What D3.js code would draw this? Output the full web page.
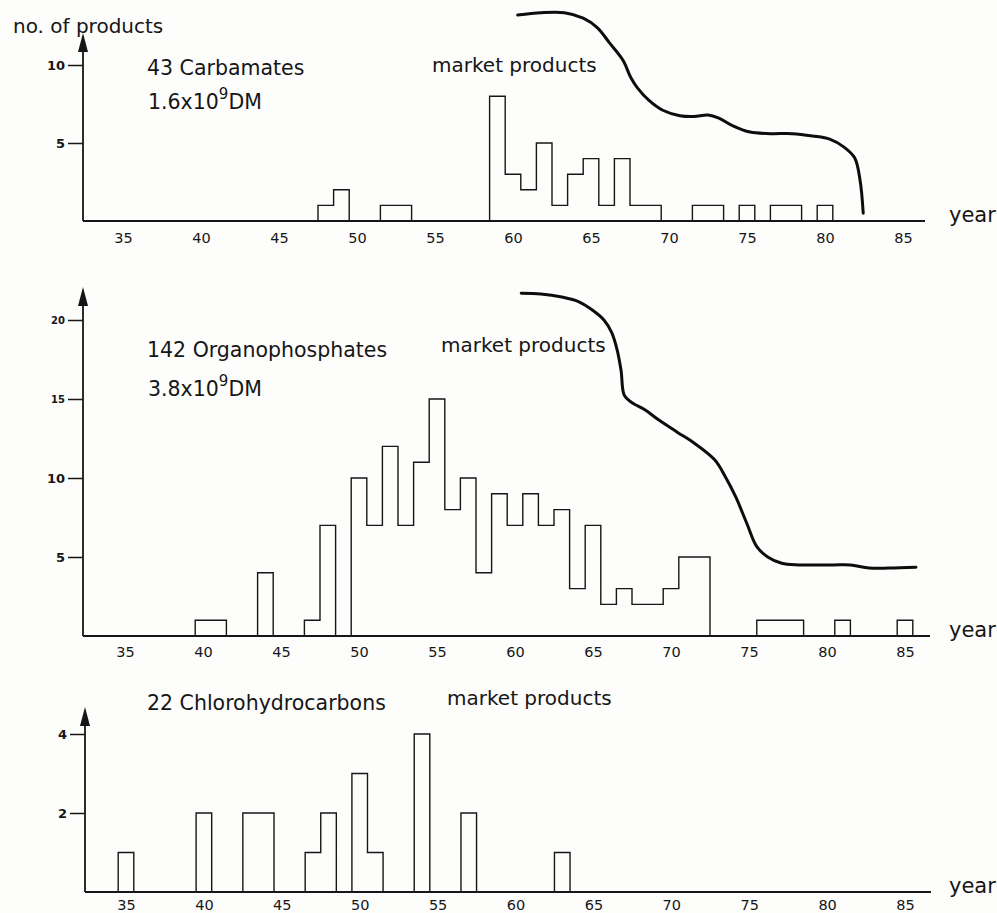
<!DOCTYPE html>
<html>
<head>
<meta charset="utf-8">
<script src="https://cdn.jsdelivr.net/npm/d3@7"></script>
<style>
body { margin: 0; background: #fdfdfc; }
svg text { font-family: "DejaVu Sans", "Liberation Sans", sans-serif; fill: #161616; }
</style>
</head>
<body>
<svg id="chart" width="997" height="913"></svg>
<script>
// Tick labels on the year axis
var yearTicks = [35, 40, 45, 50, 55, 60, 65, 70, 75, 80, 85];

// Carbamates: new products per year
var carbamateYears  = [48, 49, 52, 53, 59, 60, 61, 62, 63, 64, 65, 66, 67, 68, 69, 72, 73, 75, 77, 78, 80];
var carbamateCounts = [1, 2, 1, 1, 8, 3, 2, 5, 1, 3, 4, 1, 4, 1, 1, 1, 1, 1, 1, 1, 1];
// market products curve, [year, level on the count scale]
var carbamateMarket = [[60.3, 13.2], [61.8, 13.35], [63.3, 13.35], [64.5, 13.0], [65.4, 12.4], [66.2, 11.4],
  [67.05, 10.3], [67.55, 9.2], [68.0, 8.5], [68.7, 7.75], [69.6, 7.1], [70.7, 6.75], [71.6, 6.7], [72.5, 6.8],
  [73.2, 6.6], [74.1, 6.1], [75.2, 5.7], [76.5, 5.6], [77.9, 5.6], [79.2, 5.45], [80.3, 5.25], [81.2, 4.75],
  [81.9, 4.05], [82.25, 2.6], [82.45, 0.5]];

// Organophosphates
var phosphateYears  = [40, 41, 44, 47, 48, 50, 51, 52, 53, 54, 55, 56, 57, 58, 59, 60, 61, 62, 63, 64, 65,
  66, 67, 68, 69, 70, 71, 72, 76, 77, 78, 81, 85];
var phosphateCounts = [1, 1, 4, 1, 7, 10, 7, 12, 7, 11, 15, 8, 10, 4, 9, 7, 9, 7, 8, 3, 7,
  2, 3, 2, 2, 3, 5, 5, 1, 1, 1, 1, 1];
var phosphateMarket = [[60.4, 21.7], [61.65, 21.65], [63.0, 21.45], [64.1, 21.15], [65.0, 20.6], [65.7, 20.0],
  [66.2, 19.2], [66.55, 18.1], [66.8, 16.8], [67.0, 15.25], [67.45, 14.8], [68.35, 14.3], [69.25, 13.65],
  [70.4, 12.9], [71.5, 12.2], [72.8, 11.15], [73.5, 10.05], [74.15, 8.8], [74.85, 7.15], [75.5, 5.65],
  [76.2, 5.0], [77.1, 4.6], [78.2, 4.5], [80.4, 4.5], [81.5, 4.5], [82.7, 4.3], [84.0, 4.3], [85.7, 4.35]];

// Chlorohydrocarbons (no market curve)
var chloroYears  = [35, 40, 43, 44, 47, 48, 50, 51, 54, 57, 63];
var chloroCounts = [1, 2, 2, 2, 1, 2, 3, 1, 4, 2, 1];

var svg = d3.select("#chart");

// Panel layout
var panels = [
  { years: carbamateYears, counts: carbamateCounts, market: carbamateMarket,
    xRange: [123, 903], yDomain: [0, 10], base: 221, yTop: 65, yTicks: [5, 10],
    axisX: 83, arrowTip: 33, axisEnd: 925, labelPad: 12,
    title: "43 Carbamates", titleY: 75, value: ["1.6x10", "9", "DM"], valueY: 109,
    marketX: 432, marketY: 72 },
  { years: phosphateYears, counts: phosphateCounts, market: phosphateMarket,
    xRange: [125, 905], yDomain: [0, 20], base: 636, yTop: 320, yTicks: [5, 10, 15, 20],
    axisX: 83, arrowTip: 287, axisEnd: 930, labelPad: 11,
    title: "142 Organophosphates", titleY: 357, value: ["3.8x10", "9", "DM"], valueY: 396,
    marketX: 441, marketY: 352 },
  { years: chloroYears, counts: chloroCounts, market: null,
    xRange: [126, 905], yDomain: [0, 4], base: 892, yTop: 734, yTicks: [2, 4],
    axisX: 85, arrowTip: 707, axisEnd: 931, labelPad: 8,
    title: "22 Chlorohydrocarbons", titleY: 710, value: null,
    marketX: 447, marketY: 705 }
];

panels.forEach(drawPanel);

// y axis title
svg.append("text")
  .attr("x", 13).attr("y", 33)
  .attr("font-size", 20)
  .text("no. of products");

function drawPanel(p) {
  var x = d3.scaleLinear().domain([35, 85]).range(p.xRange);
  var y = d3.scaleLinear().domain(p.yDomain).range([p.base, p.yTop]);
  var g = svg.append("g");

  // y axis ticks
  var ya = g.append("g")
    .attr("transform", "translate(" + p.axisX + ",0)")
    .call(d3.axisLeft(y).tickValues(p.yTicks).tickSize(15).tickPadding(3).tickFormat(d3.format("d")));
  ya.select(".domain").remove();
  ya.selectAll(".tick line").attr("stroke", "#161616").attr("stroke-width", 1.5);
  ya.selectAll(".tick text")
    .attr("font-size", function(d) { return d >= 15 ? 10 : 13; })
    .attr("font-weight", "bold");

  // y axis line with arrow head
  g.append("line")
    .attr("x1", p.axisX).attr("x2", p.axisX)
    .attr("y1", p.base).attr("y2", p.arrowTip + 10)
    .attr("stroke", "#161616").attr("stroke-width", 1.8);
  g.append("path")
    .attr("d", "M" + (p.axisX - 5) + "," + (p.arrowTip + 19) + "L" + p.axisX + "," + p.arrowTip +
               "L" + (p.axisX + 5) + "," + (p.arrowTip + 19) + "Z")
    .attr("fill", "#161616");

  // x axis: labels only, baseline drawn separately
  var xa = g.append("g")
    .attr("transform", "translate(0," + p.base + ")")
    .call(d3.axisBottom(x).tickValues(yearTicks).tickSize(0).tickPadding(p.labelPad));
  xa.select(".domain").remove();
  xa.selectAll(".tick text").attr("font-size", 14.5);

  g.append("line")
    .attr("x1", p.axisX).attr("x2", p.axisEnd)
    .attr("y1", p.base).attr("y2", p.base)
    .attr("stroke", "#161616").attr("stroke-width", 1.8);

  g.append("text")
    .attr("x", 949).attr("y", p.base + 1)
    .attr("font-size", 21)
    .text("year");

  // histogram as a step outline per run of consecutive years
  var runs = [];
  p.years.forEach(function(yr, i) {
    var pt = [yr, p.counts[i]];
    if (i > 0 && yr === p.years[i - 1] + 1) runs[runs.length - 1].push(pt);
    else runs.push([pt]);
  });
  var step = d3.line()
    .x(function(d) { return x(d[0]); })
    .y(function(d) { return y(d[1]); })
    .curve(d3.curveStepAfter);
  runs.forEach(function(run) {
    var pts = [[run[0][0] - 0.5, 0]];
    run.forEach(function(d) { pts.push([d[0] - 0.5, d[1]]); });
    pts.push([run[run.length - 1][0] + 0.5, 0]);
    g.append("path")
      .attr("d", step(pts))
      .attr("fill", "none")
      .attr("stroke", "#161616")
      .attr("stroke-width", 1.4);
  });

  // market products curve
  if (p.market) {
    var curve = d3.line()
      .x(function(d) { return x(d[0]); })
      .y(function(d) { return y(d[1]); })
      .curve(d3.curveCatmullRom);
    g.append("path")
      .attr("d", curve(p.market))
      .attr("fill", "none")
      .attr("stroke", "#0d0d0d")
      .attr("stroke-width", 3)
      .attr("stroke-linecap", "round");
  }

  // labels
  g.append("text")
    .attr("x", 147).attr("y", p.titleY)
    .attr("font-size", 20.5)
    .text(p.title);
  if (p.value) {
    var t = g.append("text")
      .attr("x", 148).attr("y", p.valueY)
      .attr("font-size", 20.5);
    t.append("tspan").text(p.value[0]);
    t.append("tspan").attr("dy", -10).attr("font-size", 15).text(p.value[1]);
    t.append("tspan").attr("dy", 10).text(p.value[2]);
  }
  g.append("text")
    .attr("x", p.marketX).attr("y", p.marketY)
    .attr("font-size", 20)
    .text("market products");
}
</script>
</body>
</html>
